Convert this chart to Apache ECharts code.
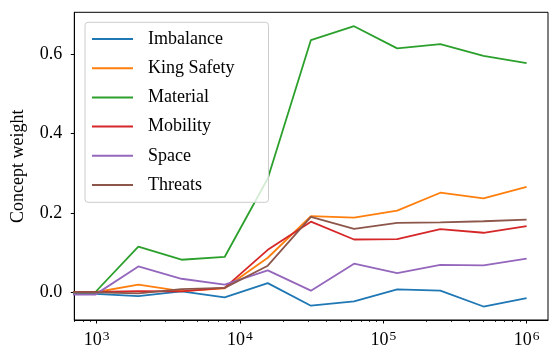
<!DOCTYPE html>
<html><head><meta charset="utf-8">
<script src="https://cdn.jsdelivr.net/npm/echarts@6/dist/echarts.min.js"></script>
<style>html,body{margin:0;padding:0;background:#fff}#c{width:560px;height:355px}</style>
</head><body><div id="c"></div>
<script>
// training steps (first point stands in for step 0, clipped off the left edge)
const steps = [1, 976.5625, 1953.125, 3906.25, 7812.5, 15625, 31250, 62500, 125000, 250000, 500000, 1000000];
const seriesNames = ['Imbalance', 'King Safety', 'Material', 'Mobility', 'Space', 'Threats'];
const imbalance  = [-0.004, -0.004, -0.010, 0.002, -0.013, 0.023, -0.034, -0.023, 0.007, 0.004, -0.036, -0.015];
const kingSafety = [0.000, 0.000, 0.019, 0.003, 0.010, 0.087, 0.192, 0.188, 0.206, 0.251, 0.237, 0.266];
const material   = [0.000, 0.000, 0.115, 0.082, 0.089, 0.287, 0.636, 0.671, 0.615, 0.626, 0.596, 0.578];
const mobility   = [0.001, 0.001, 0.003, 0.002, 0.011, 0.107, 0.178, 0.133, 0.134, 0.159, 0.150, 0.167];
const space      = [-0.006, -0.006, 0.065, 0.034, 0.019, 0.055, 0.004, 0.072, 0.048, 0.069, 0.068, 0.085];
const threats    = [0.000, 0.000, -0.003, 0.008, 0.011, 0.067, 0.190, 0.160, 0.175, 0.176, 0.179, 0.183];
const xMajorTicks = [1e3, 1e4, 1e5, 1e6];
const xMinorTicks = [700, 800, 900, 2e3, 3e3, 4e3, 5e3, 6e3, 7e3, 8e3, 9e3, 2e4, 3e4, 4e4, 5e4, 6e4, 7e4, 8e4, 9e4,
  2e5, 3e5, 4e5, 5e5, 6e5, 7e5, 8e5, 9e5];
const yTicks = [0, 0.2, 0.4, 0.6];

const colors = ['#1f77b4', '#ff7f0e', '#2ca02c', '#d62728', '#9467bd', '#8c564b'];
const values = [imbalance, kingSafety, material, mobility, space, threats];
const FONT = '"Liberation Serif", "Times New Roman", serif';

const chart = echarts.init(document.getElementById('c'), null, {renderer: 'canvas'});
const xBase = {
  type: 'log', logBase: 10, min: 698, max: 1.41e6, gridIndex: 0,
  splitLine: {show: false}, minorTick: {show: false}
};
chart.setOption({
  animation: false,
  backgroundColor: '#fff',
  color: colors,
  grid: {left: 74.3, right: 12, top: 12.3, bottom: 35, show: true, borderColor: '#000', borderWidth: 1, backgroundColor: 'transparent'},
  xAxis: [
    Object.assign({}, xBase, {
      position: 'bottom',
      axisLine: {show: true, onZero: false, lineStyle: {color: '#000', width: 1}},
      axisTick: {show: true, inside: false, length: 3.5, lineStyle: {color: '#000', width: 1}, customValues: xMajorTicks},
      axisLabel: {
        show: true, margin: 9, customValues: xMajorTicks,
        formatter: v => '{b|10}{s|' + Math.round(Math.log10(v)) + '}',
        rich: {
          b: {fontFamily: FONT, fontSize: 18, color: '#000'},
          s: {fontFamily: FONT, fontSize: 13.5, color: '#000', verticalAlign: 'top', padding: [0, 0, 9, 1]}
        }
      }
    }),
    Object.assign({}, xBase, {
      position: 'bottom',
      axisLine: {show: false, onZero: false},
      axisTick: {show: true, inside: false, length: 2, lineStyle: {color: '#000', width: 0.8}, customValues: xMinorTicks},
      axisLabel: {show: false}
    })
  ],
  yAxis: {
    type: 'value', min: -0.07, max: 0.706,
    splitLine: {show: false},
    axisLine: {show: true, onZero: false, lineStyle: {color: '#000', width: 1}},
    axisTick: {show: true, length: 3.5, lineStyle: {color: '#000'}, customValues: yTicks},
    axisLabel: {show: true, margin: 12, customValues: yTicks, fontFamily: FONT, fontSize: 18, color: '#000',
      formatter: v => v.toFixed(1)},
    name: 'Concept weight', nameLocation: 'middle', nameGap: 47, nameRotate: 90,
    nameTextStyle: {fontFamily: FONT, fontSize: 18, color: '#000'}
  },
  legend: {
    orient: 'vertical', left: 85, top: 22.3,
    data: seriesNames.map((n, i) => ({name: n, icon: 'rect', itemStyle: {color: colors[i]}})),
    itemWidth: 41, itemHeight: 2, itemGap: 11.2,
    padding: [7.7, 34, 8.3, 7],
    backgroundColor: 'rgba(255,255,255,0.8)', borderColor: '#cccccc', borderWidth: 1, borderRadius: 3,
    textStyle: {fontFamily: FONT, fontSize: 18, color: '#000', padding: [0, 0, 0, 10]},
    selectedMode: false
  },
  series: seriesNames.map((n, i) => ({
    name: n, type: 'line', xAxisIndex: 0, yAxisIndex: 0,
    data: steps.map((s, j) => [s, values[i][j]]),
    showSymbol: false, symbol: 'none', clip: true,
    lineStyle: {width: 1.8, color: colors[i]}, itemStyle: {color: colors[i]}
  }))
});
</script></body></html>
